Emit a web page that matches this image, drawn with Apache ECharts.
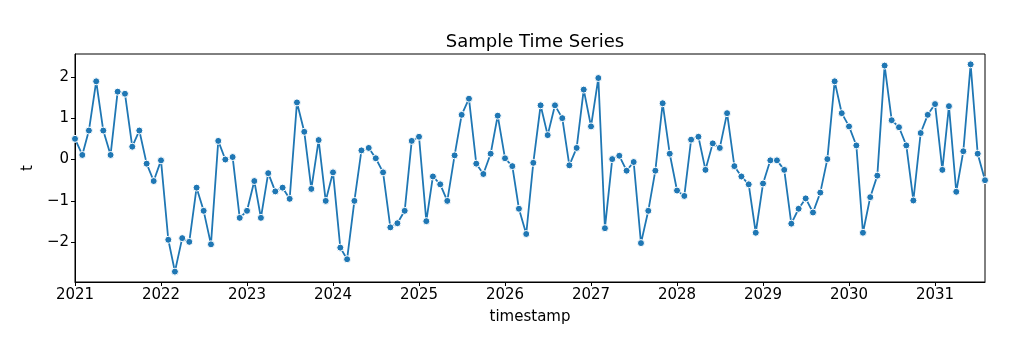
<!DOCTYPE html>
<html>
<head>
<meta charset="utf-8">
<script src="https://cdn.jsdelivr.net/npm/echarts@6/dist/echarts.min.js"></script>
<style>html,body{margin:0;padding:0;background:#fff}#c{width:1024px;height:362px}</style>
</head>
<body>
<div id="c"></div>
<script>
// monthly series starting 2021-01
const startYear = 2021;
const startMonth = 0;
const values = [
  0.50, 0.11, 0.70, 1.89, 0.70, 0.11, 1.64, 1.59, 0.31, 0.70, -0.10, -0.52,
  -0.02, -1.94, -2.71, -1.90, -1.99, -0.68, -1.24, -2.05, 0.45, 0.00, 0.06, -1.41,
  -1.24, -0.52, -1.41, -0.33, -0.77, -0.68, -0.95, 1.38, 0.67, -0.71, 0.47, -1.00,
  -0.31, -2.13, -2.41, -1.00, 0.22, 0.28, 0.03, -0.31, -1.64, -1.54, -1.24, 0.45,
  0.55, -1.49, -0.41, -0.60, -1.00, 0.10, 1.08, 1.47, -0.10, -0.35, 0.14, 1.06,
  0.03, -0.16, -1.19, -1.80, -0.08, 1.31, 0.59, 1.31, 1.00, -0.14, 0.28, 1.69,
  0.80, 1.97, -1.66, 0.01, 0.09, -0.27, -0.06, -2.02, -1.24, -0.27, 1.36, 0.14,
  -0.75, -0.88, 0.48, 0.55, -0.25, 0.39, 0.28, 1.12, -0.16, -0.41, -0.60, -1.77,
  -0.58, -0.02, -0.02, -0.25, -1.55, -1.19, -0.94, -1.28, -0.80, 0.01, 1.89, 1.12,
  0.80, 0.34, -1.77, -0.91, -0.39, 2.27, 0.95, 0.78, 0.34, -0.99, 0.64, 1.08,
  1.34, -0.25, 1.29, -0.78, 0.20, 2.30, 0.14, -0.50
];
const xTicks = [2021, 2022, 2023, 2024, 2025, 2026, 2027, 2028, 2029, 2030, 2031];
const yTicks = [-2, -1, 0, 1, 2];

function decimalYear(y, m) {
  const t = Date.UTC(y, m, 1), a = Date.UTC(y, 0, 1), b = Date.UTC(y + 1, 0, 1);
  return y + (t - a) / (b - a);
}
const points = values.map((v, i) => {
  const mm = startMonth + i;
  return [decimalYear(startYear + Math.floor(mm / 12), mm % 12), v];
});
const xMin = points[0][0], xMax = points[points.length - 1][0];
const yLo = Math.min(...values), yHi = Math.max(...values);
const pad = (yHi - yLo) * 0.05;

const font = 'DejaVu Sans';
const chart = echarts.init(document.getElementById('c'), null, {renderer: 'canvas'});
chart.setOption({
  animation: false,
  title: {
    text: 'Sample Time Series', left: 530, textAlign: 'center', top: 28,
    textStyle: {fontFamily: font, fontSize: 18, fontWeight: 'normal', color: '#000'}
  },
  grid: {left: 75, right: 39, top: 54, bottom: 80, show: true, borderColor: '#000', borderWidth: 1, containLabel: false},
  xAxis: {
    type: 'value', min: xMin, max: xMax,
    name: 'timestamp', nameLocation: 'middle', nameGap: 28,
    nameTextStyle: {fontFamily: font, fontSize: 15, color: '#000'},
    axisLine: {show: true, onZero: false, lineStyle: {color: '#000', width: 1}},
    axisTick: {show: true, length: 4, customValues: xTicks, lineStyle: {color: '#000'}},
    axisLabel: {customValues: xTicks, fontFamily: font, fontSize: 15, color: '#000', margin: 6, formatter: v => String(Math.round(v))},
    splitLine: {show: false}
  },
  yAxis: {
    type: 'value', min: yLo - pad, max: yHi + pad,
    name: 't', nameLocation: 'middle', nameGap: 38, nameRotate: 90,
    nameTextStyle: {fontFamily: font, fontSize: 15, color: '#000'},
    axisLine: {show: true, onZero: false, lineStyle: {color: '#000', width: 1}},
    axisTick: {show: true, length: 4, customValues: yTicks, lineStyle: {color: '#000'}},
    axisLabel: {customValues: yTicks, fontFamily: font, fontSize: 15, color: '#000', margin: 6,
      formatter: v => (v < 0 ? '\u2212' + Math.abs(v) : String(v))},
    splitLine: {show: false}
  },
  series: [{
    type: 'line', data: points,
    symbol: 'circle', symbolSize: 7, showAllSymbol: true,
    lineStyle: {color: '#1f77b4', width: 1.8},
    itemStyle: {color: '#1f77b4', borderColor: '#fff', borderWidth: 1}
  }]
});
</script>
</body>
</html>
